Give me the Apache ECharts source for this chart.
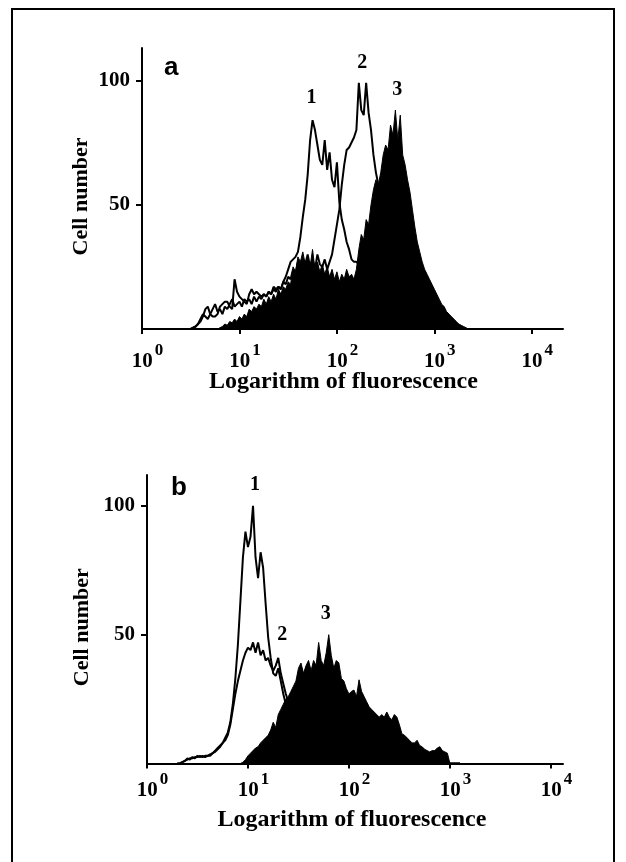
<!DOCTYPE html>
<html>
<head>
<meta charset="utf-8">
<script src="https://cdn.jsdelivr.net/npm/echarts@6/dist/echarts.min.js"></script>
<style>
html,body{margin:0;padding:0;background:#fff;}
#c{width:626px;height:862px;}
</style>
</head>
<body>
<div id="c"></div>
<script>
// ---------- data (x = log10 of fluorescence) ----------
const ax = [0.400,0.425,0.450,0.475,0.500,0.525,0.550,0.575,0.600,0.625,0.650,0.675,0.700,0.725,0.750,0.775,0.800,0.825,0.850,0.875,0.900,0.925,0.950,0.975,
1.000,1.025,1.050,1.075,1.100,1.125,1.150,1.175,1.200,1.225,1.250,1.275,1.300,1.325,1.350,1.375,1.400,1.425,1.450,1.475,1.500,1.525,1.550,1.575,1.600,1.625,1.650,1.675,1.700,1.725,1.750,1.775,1.800,1.825,1.850,1.875,1.900,1.925,1.950,1.975,
2.000,2.025,2.050,2.075,2.100,2.125,2.150,2.175,2.200,2.225,2.250,2.275,2.300,2.325,2.350,2.375,2.400,2.425,2.450,2.475,2.500,2.525,2.550,2.575,2.600,2.625,2.650,2.675,2.700,2.725,2.750,2.775,2.800,2.825,2.850,2.875,2.900,2.925,2.950,2.975,
3.000,3.025,3.050,3.075,3.100,3.125,3.150,3.175,3.200,3.225,3.250,3.275,3.300,3.325,3.350,3.375,3.400];
const a1 = [0,0,0,0,0,0.5,1,2,3,5,8,9,6,5,5,6,9,10,11,11,9,8,20,15,
13,12,11,10,14,16,14,15,14,13,14,13,15,14,17,16,17,16,19,21,24,27,28,29,31,37,45,52,62,76,84,80,74,68,66,76,64,71,60,57,
67,51,44,40,35,32,28,27,27,26,24,22,20,18,16,14,12,10,9,8,7,6,5,4,3,2,1.5,1,0.5,0,0,0,0,0,0,0,0,0,0,0,
0,0,0,0,0,0,0,0,0,0,0,0,0,0,0,0,0];
const a2 = [0,0,0,0,0,0.5,1,2,4,6,5,4,6,8,10,7,8,6,9,8,10,12,9,10,
11,9,12,11,12,10,13,11,13,12,14,13,15,14,16,15,17,16,19,18,21,20,24,22,27,25,28,26,30,25,28,24,30,26,25,28,24,27,30,36,
42,48,58,66,72,73,75,77,80,99,88,86,99,87,80,70,63,58,52,47,42,38,34,30,26,22,19,16,13,11,9,7,6,5,4,3,2,1.5,1,0.5,
0,0,0,0,0,0,0,0,0,0,0,0,0,0,0,0,0];
const a3 = [0,0,0,0,0,0,0,0,0,0,0,0,0,0,0,0,0.5,1,2,1.5,3,2.5,4,3,
5,4,6,5,8,7,9,8,10,9,12,10,13,11,14,12,16,14,17,16,19,18,25,23,29,27,31,26,29,25,32,24,27,23,26,22,25,21,24,20,
23,19,22,20,24,21,22,20,24,32,38,36,44,42,50,56,60,58,63,70,74,72,82,78,88,76,86,70,66,60,55,48,41,35,31,27,24,22,20,18,
16,14,12,10,9,7,6,5,4,3,2,1.5,1,0.5,0,0,0];

const bx = [0.300,0.325,0.350,0.375,0.400,0.425,0.450,0.475,0.500,0.525,0.550,0.575,0.600,0.625,0.650,0.675,0.700,0.725,0.750,0.775,0.800,0.825,0.850,0.875,0.900,0.925,0.950,0.975,
1.000,1.025,1.050,1.075,1.100,1.125,1.150,1.175,1.200,1.225,1.250,1.275,1.300,1.325,1.350,1.375,1.400,1.425,1.450,1.475,1.500,1.525,1.550,1.575,1.600,1.625,1.650,1.675,1.700,1.725,1.750,1.775,1.800,1.825,1.850,1.875,1.900,1.925,1.950,1.975,
2.000,2.025,2.050,2.075,2.100,2.125,2.150,2.175,2.200,2.225,2.250,2.275,2.300,2.325,2.350,2.375,2.400,2.425,2.450,2.475,2.500,2.525,2.550,2.575,2.600,2.625,2.650,2.675,2.700,2.725,2.750,2.775,2.800,2.825,2.850,2.875,2.900,2.925,2.950,2.975,
3.000,3.025,3.050,3.075,3.100];
const b1 = [0,0,0.5,1,2,1.5,2.5,2,3,2.5,3,2.5,3,3.5,4,5,6,7,8,10,12,16,23,33,46,63,80,90,
84,88,100,80,72,82,76,62,49,41,35,34,37,32,27,23,19,16,13,11,9,8,7,6,5,4,3.5,3,2.5,2,1.5,1,0.5,0,0,0,0,0,0,0,
0,0,0,0,0,0,0,0,0,0,0,0,0,0,0,0,0,0,0,0,0,0,0,0,0,0,0,0,0,0,0,0,0,0,0,0,0,0,0,0,
0,0,0,0,0];
const b2 = [0,0,0.5,1,1.5,2,2,2.5,2.5,3,2.5,3,3,3,4,4.5,5.5,6.5,8,9,11,15,21,27,32,36,40,43,
45,44,47,43,47,42,44,40,41,38,36,38,41,35,31,27,24,22,19,17,15,13,11,9,8,7,6,5,4,3,2.5,2,1.5,1,0.5,0,0,0,0,0,
0,0,0,0,0,0,0,0,0,0,0,0,0,0,0,0,0,0,0,0,0,0,0,0,0,0,0,0,0,0,0,0,0,0,0,0,0,0,0,0,
0,0,0,0,0];
const b3 = [0,0,0,0,0,0,0,0,0,0,0,0,0,0,0,0,0,0,0,0,0,0,0,0,0,0,0.5,1.5,
3,4,5,6,6.5,8,9,10,11,13,16,14,19,21,23,25,26,28,30,32,37,39,35,38,40,36,40,38,47,40,38,43,50,42,37,40,39,33,32,29,
27,28,28.5,26,32.5,28,26,24,22,21,20,19,18,19,18,20,18,17,19,18,15,11.5,11,10,9,8,8,9,7,6.5,5.5,5,4.5,5,5,6,6.5,5,4.5,4,
0,0,0,0,0];

const xTicks = [0, 1, 2, 3, 4];          // exponents of 10
const yTicks = [50, 100];
const aPeakText = ['1', '2', '3'];
const aPeakX = [1.74, 2.26, 2.62];
const aPeakY = [93, 107, 96];
const bPeakText = ['1', '2', '3'];
const bPeakX = [1.07, 1.34, 1.77];
const bPeakY = [108, 50, 58];

// ---------- chart ----------
const SERIF = '"Liberation Serif", "Times New Roman", serif';
const SANS = '"Liberation Sans", Arial, sans-serif';
const zip = (xs, ys) => xs.map((x, i) => [x, ys[i]]);

function xAxisCfg(idx, max, nameGap, labelMargin, namePad) {
  return {
    type: 'value', gridIndex: idx, min: 0, max: max,
    name: 'Logarithm of fluorescence', nameLocation: 'middle', nameGap: nameGap, nameMoveOverlap: false,
    nameTextStyle: {fontFamily: SERIF, fontWeight: 'bold', fontSize: 24, color: '#000', padding: namePad},
    axisLine: {show: true, onZero: false, lineStyle: {color: '#000', width: 2}},
    axisTick: {show: true, customValues: xTicks, length: 5, lineStyle: {color: '#000', width: 2}},
    axisLabel: {
      customValues: xTicks, margin: labelMargin,
      formatter: v => '{p| }{b|10}{s|' + v + '}',
      rich: {
        p: {width: 11, fontSize: 17},
        b: {fontFamily: SERIF, fontWeight: 'bold', fontSize: 21, color: '#000', lineHeight: 30, verticalAlign: 'bottom'},
        s: {fontFamily: SERIF, fontWeight: 'bold', fontSize: 17, color: '#000', lineHeight: 17, verticalAlign: 'top', padding: [0, 0, 0, 2]}
      }
    },
    splitLine: {show: false}
  };
}
function yAxisCfg(idx, max, nameGap) {
  return {
    type: 'value', gridIndex: idx, min: 0, max: max,
    name: 'Cell number', nameLocation: 'middle', nameGap: nameGap, nameMoveOverlap: false,
    nameTextStyle: {fontFamily: SERIF, fontWeight: 'bold', fontSize: 22, color: '#000', padding: [0, 16, 0, 0]},
    axisLine: {show: true, lineStyle: {color: '#000', width: 2}},
    axisTick: {show: true, customValues: yTicks, length: 6, lineStyle: {color: '#000', width: 2}},
    axisLabel: {customValues: yTicks, margin: 12, fontFamily: SERIF, fontWeight: 'bold', fontSize: 21, color: '#000'},
    splitLine: {show: false}
  };
}
function outline(idx, xs, ys) {
  return {type: 'line', xAxisIndex: idx, yAxisIndex: idx, data: zip(xs, ys), symbol: 'none',
    lineStyle: {color: '#000', width: 2}, z: 3, animation: false};
}
function filled(idx, xs, ys) {
  return {type: 'line', xAxisIndex: idx, yAxisIndex: idx, data: zip(xs, ys), symbol: 'none',
    lineStyle: {color: '#000', width: 1}, areaStyle: {color: '#000', opacity: 1}, z: 2, animation: false};
}
function peakLabels(idx, texts, xs, ys) {
  return {type: 'scatter', xAxisIndex: idx, yAxisIndex: idx, symbolSize: 1, z: 5, animation: false,
    itemStyle: {opacity: 0},
    data: texts.map((t, i) => ({name: t, value: [xs[i], ys[i]]})),
    label: {show: true, position: 'inside', formatter: p => p.name, opacity: 1,
      fontFamily: SERIF, fontWeight: 'bold', fontSize: 20, color: '#000', textBorderWidth: 0}};
}

const chart = echarts.init(document.getElementById('c'), null, {renderer: 'canvas'});
chart.setOption({
  backgroundColor: '#fff',
  animation: false,
  title: [
    {text: 'a', left: 164, top: 55, padding: 0, textStyle: {fontFamily: SANS, fontWeight: 'bold', fontSize: 26, color: '#000'}},
    {text: 'b', left: 171, top: 475, padding: 0, textStyle: {fontFamily: SANS, fontWeight: 'bold', fontSize: 26, color: '#000'}}
  ],
  graphic: [{type: 'rect', shape: {x: 12, y: 9, width: 602, height: 900},
    style: {fill: null, stroke: '#000', lineWidth: 2}, silent: true}],
  grid: [
    {left: 142, top: 48, width: 421, height: 281},
    {left: 147, top: 475, width: 416, height: 288.5}
  ],
  xAxis: [xAxisCfg(0, 4.32, 41, 13, [0, 18, 0, 0]), xAxisCfg(1, 4.12, 44, 8, [0, 6, 0, 0])],
  yAxis: [yAxisCfg(0, 113, 50), yAxisCfg(1, 112, 54)],
  series: [
    filled(0, ax, a3), outline(0, ax, a1), outline(0, ax, a2), peakLabels(0, aPeakText, aPeakX, aPeakY),
    filled(1, bx, b3), outline(1, bx, b1), outline(1, bx, b2), peakLabels(1, bPeakText, bPeakX, bPeakY)
  ]
});
</script>
</body>
</html>
